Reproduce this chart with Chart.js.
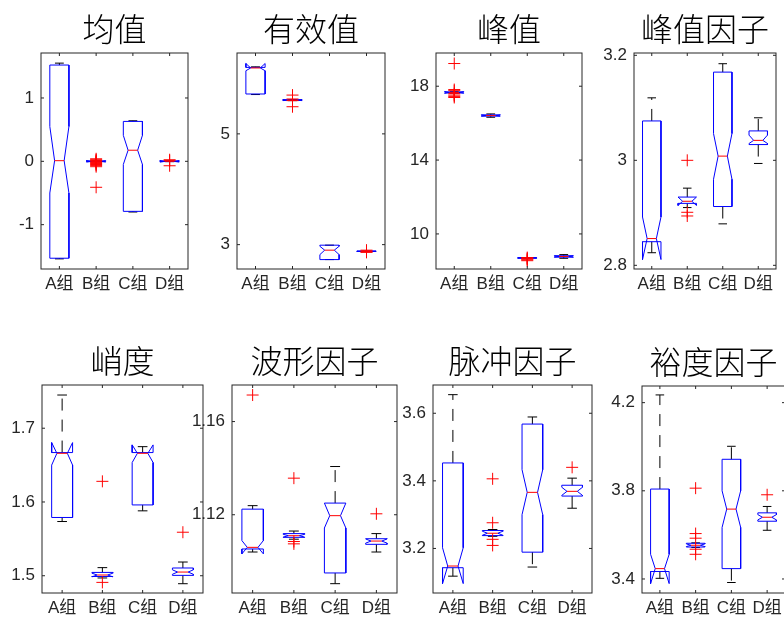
<!DOCTYPE html>
<html>
<head>
<meta charset="utf-8">
<script src="https://cdn.jsdelivr.net/npm/chart.js@4.4.0/dist/chart.umd.min.js"></script>
<style>
html, body { margin: 0; padding: 0; background: #fff; overflow: hidden; width: 784px; height: 620px; position: relative; }
canvas { position: absolute; }
</style>
</head>
<body>
<script>
// --- data ---
const groups = ['A组', 'B组', 'C组', 'D组'];
const titles = ['均值', '有效值', '峰值', '峰值因子', '峭度', '波形因子', '脉冲因子', '裕度因子'];
const yRanges = [[-1.70, 1.71], [2.56, 6.46], [8.10, 19.80], [2.793, 3.2044],
                 [1.4766, 1.7586], [1.0864, 1.1757], [3.0682, 3.6836], [3.3364, 4.2755]];
const yTicks = [[-1, 0, 1], [3, 5], [10, 14, 18], [2.8, 3, 3.2],
                [1.5, 1.6, 1.7], [1.12, 1.16], [3.2, 3.4, 3.6], [3.4, 3.8, 4.2]];

const whiskerLow = [
  [-1.54, -0.005, -0.80, -0.005],
  [5.71, 5.60, 2.73, 2.878],
  [17.63, 16.32, 8.685, 8.68],
  [2.824, 2.910, 2.879, 2.994],
  [1.5735, 1.497, 1.588, 1.4892],
  [1.1040, 1.1095, 1.0904, 1.1040],
  [3.118, 3.236, 3.145, 3.319],
  [3.403, 3.543, 3.384, 3.621]
];
const quartile1 = [
  [-1.53, -0.004, -0.79, -0.004],
  [5.72, 5.605, 2.73, 2.878],
  [17.64, 16.38, 8.69, 8.74],
  [2.845, 2.918, 2.912, 3.030],
  [1.579, 1.499, 1.596, 1.5005],
  [1.1053, 1.1103, 1.0950, 1.1073],
  [3.143, 3.238, 3.189, 3.355],
  [3.434, 3.545, 3.447, 3.662]
];
const notchLow = [
  [-0.50, -0.012, -0.05, -0.012],
  [6.14, 5.60, 2.82, 2.875],
  [17.62, 16.38, 8.68, 8.75],
  [2.811, 2.914, 2.964, 3.032],
  [1.650, 1.4985, 1.6535, 1.502],
  [1.1032, 1.1104, 1.1143, 1.1078],
  [3.096, 3.239, 3.300, 3.357],
  [3.379, 3.547, 3.634, 3.668]
];
const medians = [
  [0.01, 0, 0.175, 0],
  [6.19, 5.61, 2.90, 2.88],
  [17.665, 16.41, 8.70, 8.78],
  [2.851, 2.922, 3.008, 3.038],
  [1.666, 1.501, 1.666, 1.505],
  [1.1060, 1.1110, 1.1196, 1.1087],
  [3.148, 3.245, 3.366, 3.369],
  [3.447, 3.553, 3.717, 3.680]
];
const notchHigh = [
  [0.55, 0.012, 0.41, 0.012],
  [6.27, 5.62, 2.97, 2.885],
  [17.71, 16.44, 8.72, 8.81],
  [2.892, 2.930, 3.051, 3.048],
  [1.6805, 1.5035, 1.6774, 1.508],
  [1.1089, 1.1116, 1.1250, 1.1096],
  [3.202, 3.251, 3.433, 3.381],
  [3.512, 3.559, 3.800, 3.692]
];
const quartile3 = [
  [1.52, 0.004, 0.63, 0.004],
  [6.20, 5.615, 2.99, 2.882],
  [17.69, 16.45, 8.71, 8.82],
  [3.075, 2.930, 3.168, 3.056],
  [1.667, 1.5045, 1.667, 1.5105],
  [1.1224, 1.1119, 1.1250, 1.1097],
  [3.453, 3.253, 3.568, 3.387],
  [3.808, 3.562, 3.943, 3.700]
];
const whiskerHigh = [
  [1.55, 0.005, 0.64, 0.005],
  [6.21, 5.62, 2.99, 2.882],
  [17.70, 16.50, 8.715, 8.88],
  [3.119, 2.947, 3.184, 3.081],
  [1.745, 1.511, 1.675, 1.5186],
  [1.1239, 1.1130, 1.1407, 1.1119],
  [3.655, 3.256, 3.589, 3.408],
  [4.235, 3.564, 4.002, 3.729]
];
const outliers = [
  [[], [0.04, 0.025, 0.015, 0.005, -0.01, -0.02, -0.035, -0.05, -0.065, -0.085, -0.41], [], [0.025, 0.01, -0.07]],
  [[], [5.70, 5.63, 5.60, 5.49], [], [2.90, 2.885, 2.87, 2.86]],
  [[19.23, 17.82, 17.76, 17.60, 17.52, 17.45, 17.39], [], [8.72, 8.68, 8.64, 8.60, 8.55], []],
  [[], [3.0, 2.901, 2.894], [], []],
  [[], [1.628, 1.491], [], [1.559]],
  [[1.1714], [1.1357, 1.1085, 1.1075], [], [1.1204]],
  [[], [3.406, 3.276, 3.227, 3.209], [], [3.440]],
  [[], [3.812, 3.606, 3.585, 3.535, 3.512], [], [3.782]]
];

// --- layout (plot area of each panel in page pixels: left, top, right, bottom) ---
const areas = [
  [41, 53, 191, 269], [237, 53, 388, 269], [436, 53, 585, 269], [634, 53, 779, 269],
  [42, 385, 206, 593], [232, 385, 400, 593], [433, 385, 595, 593], [642, 386, 788, 593]
];
const Y_AXIS_W = 50, X_AXIS_H = 30, TITLE_H = 53, PAD_R = 4;
const BOX_W = 0.26, NOTCH_W = 0.13, CAP_W = 0.12;
const TEXT = '#262626';
const tickFont = { family: "'Liberation Sans', Arial, 'Noto Sans CJK SC', sans-serif", size: 17 };

// frame + inward tick marks, MATLAB style
const frame = {
  id: 'frame',
  afterDraw(chart) {
    const { ctx, chartArea: a, scales: { x, y } } = chart;
    ctx.save();
    ctx.strokeStyle = TEXT;
    ctx.lineWidth = 1;
    ctx.strokeRect(a.left, a.top, a.right - a.left, a.bottom - a.top);
    ctx.beginPath();
    y.ticks.forEach(t => {
      const py = y.getPixelForValue(t.value);
      ctx.moveTo(a.left, py); ctx.lineTo(a.left + 3, py);
      ctx.moveTo(a.right, py); ctx.lineTo(a.right - 3, py);
    });
    x.ticks.forEach(t => {
      const px = x.getPixelForValue(t.value);
      ctx.moveTo(px, a.bottom); ctx.lineTo(px, a.bottom - 3);
      ctx.moveTo(px, a.top); ctx.lineTo(px, a.top + 3);
    });
    ctx.stroke();
    ctx.restore();
  }
};

function collect(fn) {
  const pts = [];
  groups.forEach((g, i) => {
    fn(i + 1, i).forEach(seg => {
      seg.forEach(p => pts.push({ x: p[0], y: p[1] }));
      pts.push({ x: i + 1, y: null });
    });
  });
  return pts;
}

function lineSet(data, color, dash) {
  return {
    data, showLine: true, borderColor: color, borderWidth: 1, borderDash: dash || [],
    pointRadius: 0, spanGaps: false, tension: 0, fill: false
  };
}

titles.forEach((title, k) => {
  const [L, T, R, B] = areas[k];
  const cv = document.createElement('canvas');
  cv.width = Y_AXIS_W + (R - L) + PAD_R;
  cv.height = TITLE_H + (B - T) + X_AXIS_H;
  cv.style.left = (L - Y_AXIS_W) + 'px';
  cv.style.top = (T - TITLE_H) + 'px';
  document.body.appendChild(cv);

  const boxes = collect((c, i) => {
    const l = c - BOX_W, r = c + BOX_W, nl = c - NOTCH_W, nr = c + NOTCH_W;
    return [[[l, quartile1[k][i]], [l, notchLow[k][i]], [nl, medians[k][i]], [l, notchHigh[k][i]],
             [l, quartile3[k][i]], [r, quartile3[k][i]], [r, notchHigh[k][i]], [nr, medians[k][i]],
             [r, notchLow[k][i]], [r, quartile1[k][i]], [l, quartile1[k][i]]]];
  });
  const meds = collect((c, i) => [[[c - NOTCH_W, medians[k][i]], [c + NOTCH_W, medians[k][i]]]]);
  const whiskers = collect((c, i) => [
    [[c, quartile3[k][i]], [c, whiskerHigh[k][i]]],
    [[c, quartile1[k][i]], [c, whiskerLow[k][i]]]
  ]);
  const caps = collect((c, i) => [
    [[c - CAP_W, whiskerHigh[k][i]], [c + CAP_W, whiskerHigh[k][i]]],
    [[c - CAP_W, whiskerLow[k][i]], [c + CAP_W, whiskerLow[k][i]]]
  ]);
  const outs = [];
  outliers[k].forEach((vals, i) => vals.forEach(v => outs.push({ x: i + 1, y: v })));

  new Chart(cv, {
    type: 'scatter',
    data: {
      datasets: [
        { data: outs, pointStyle: 'cross', pointRadius: 6, pointBorderColor: '#ff0000', pointBorderWidth: 1, showLine: false },
        lineSet(meds, '#ff0000'),
        lineSet(boxes, '#0000ff'),
        lineSet(caps, '#000000'),
        lineSet(whiskers, '#000000', [12, 9])
      ]
    },
    options: {
      responsive: false,
      animation: false,
      events: [],
      layout: { padding: { left: 0, right: PAD_R, top: 0, bottom: 0 } },
      plugins: {
        legend: { display: false },
        tooltip: { enabled: false },
        title: {
          display: true, text: title, color: '#000', fullSize: false,
          font: { family: "'Noto Sans CJK SC', sans-serif", size: 32, weight: 300 },
          padding: { top: 10, bottom: TITLE_H - 38.4 - 10 }
        }
      },
      scales: {
        x: {
          type: 'linear', min: 0.5, max: 4.5,
          afterBuildTicks: s => { s.ticks = groups.map((g, i) => ({ value: i + 1 })); },
          afterFit: s => { s.height = X_AXIS_H; },
          ticks: { callback: v => groups[v - 1], color: TEXT, font: tickFont, padding: 5, autoSkip: false, maxRotation: 0 },
          grid: { display: false, drawTicks: false },
          border: { display: false }
        },
        y: {
          type: 'linear', min: yRanges[k][0], max: yRanges[k][1],
          afterBuildTicks: s => { s.ticks = yTicks[k].map(v => ({ value: v })); },
          afterFit: s => { s.width = Y_AXIS_W; },
          ticks: { callback: v => String(v), color: TEXT, font: tickFont, padding: 7 },
          grid: { display: false, drawTicks: false },
          border: { display: false }
        }
      }
    },
    plugins: [frame]
  });
});
</script>
</body>
</html>
